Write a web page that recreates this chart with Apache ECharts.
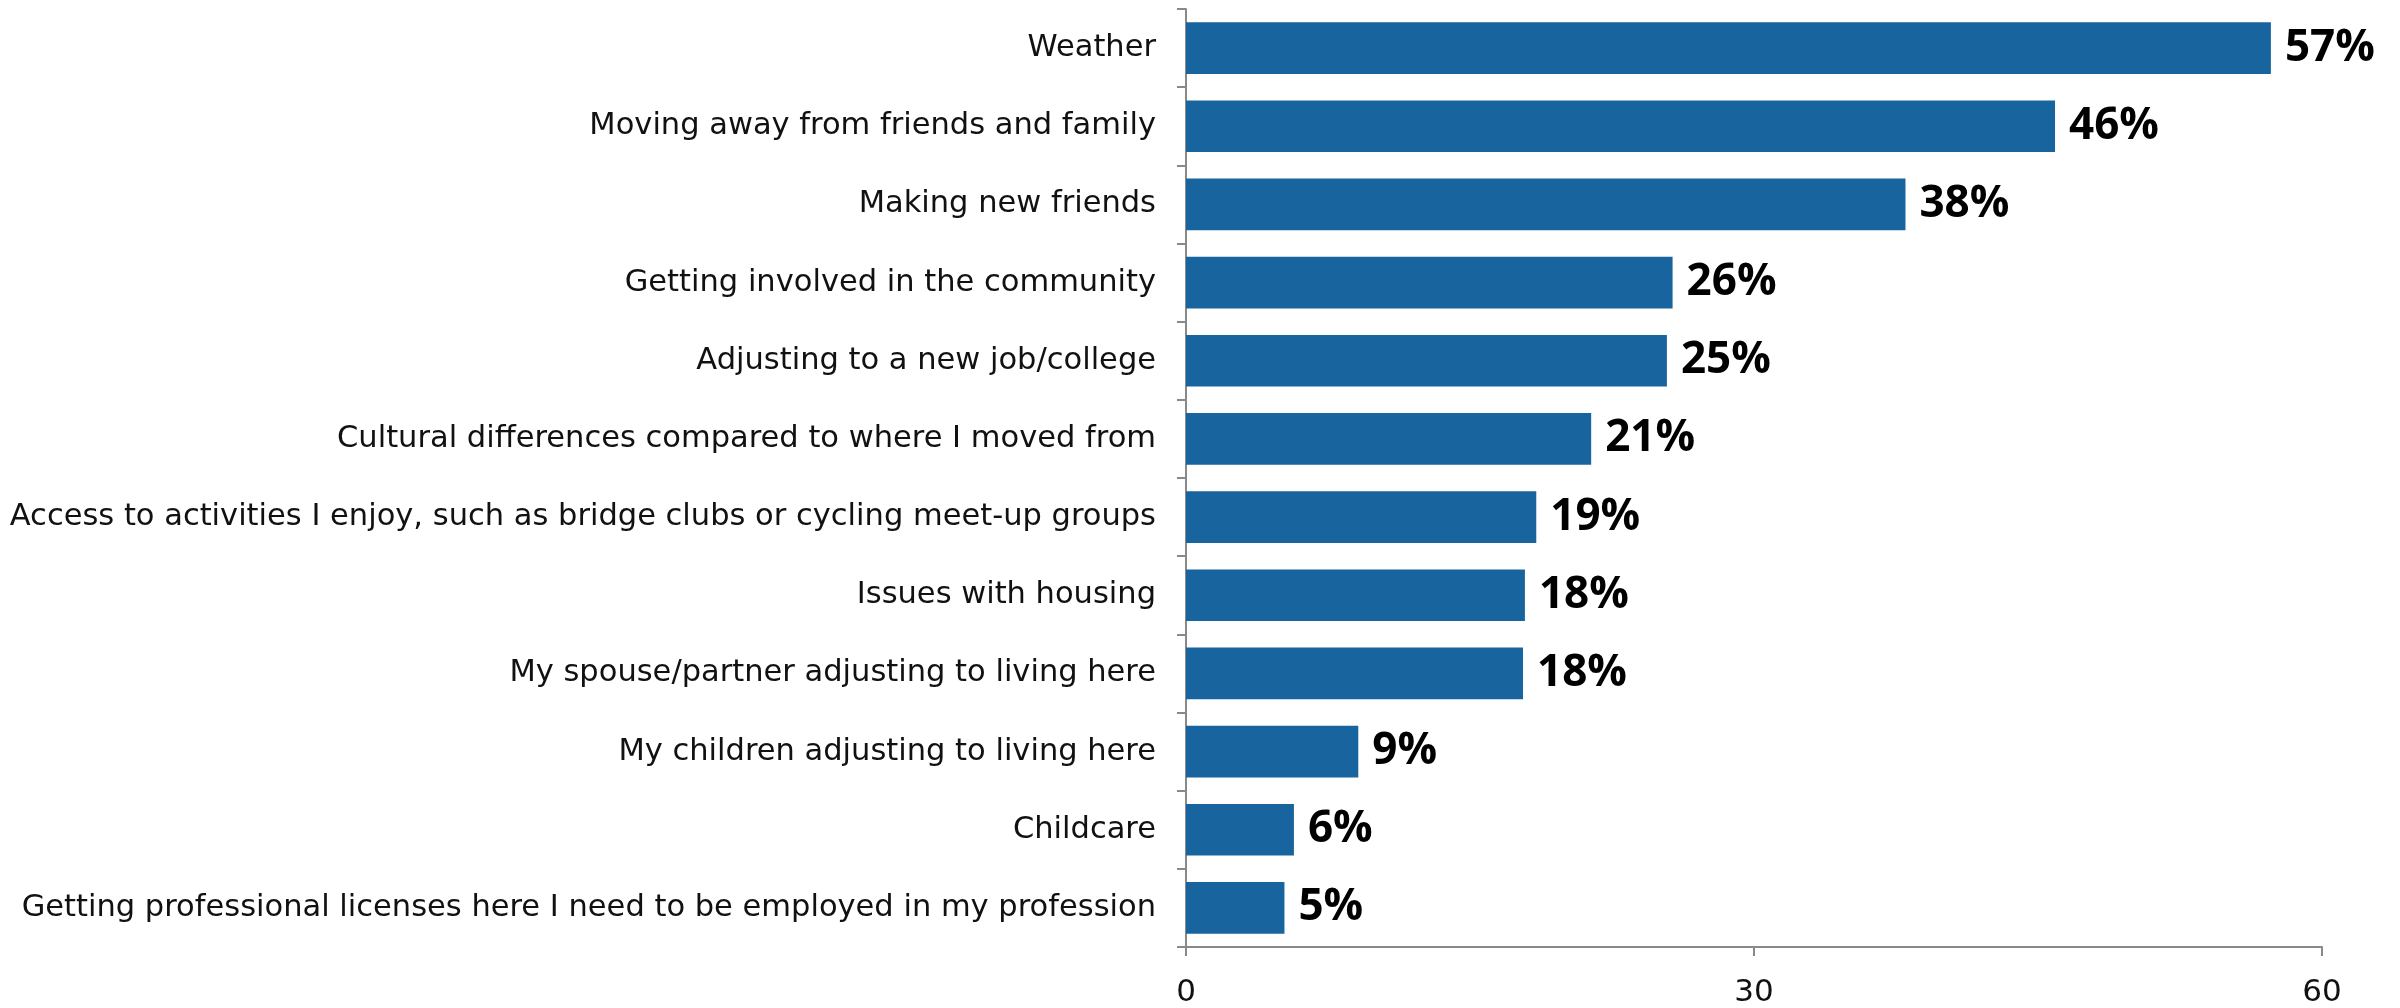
<!DOCTYPE html>
<html>
<head>
<meta charset="utf-8">
<script src="https://cdn.jsdelivr.net/npm/echarts@6/dist/echarts.min.js"></script>
<style>html,body{margin:0;padding:0;background:#fff}#c{width:2400px;height:1008px}</style>
</head>
<body>
<div id="c"></div>
<script>
const categories = [
  "Weather",
  "Moving away from friends and family",
  "Making new friends",
  "Getting involved in the community",
  "Adjusting to a new job/college",
  "Cultural differences compared to where I moved from",
  "Access to activities I enjoy, such as bridge clubs or cycling meet-up groups",
  "Issues with housing",
  "My spouse/partner adjusting to living here",
  "My children adjusting to living here",
  "Childcare",
  "Getting professional licenses here I need to be employed in my profession"
];
const values = [57.3, 45.9, 38.0, 25.7, 25.4, 21.4, 18.5, 17.9, 17.8, 9.1, 5.7, 5.2];
const labels = ["57%", "46%", "38%", "26%", "25%", "21%", "19%", "18%", "18%", "9%", "6%", "5%"];
const xTicks = [0, 30, 60];

const chart = echarts.init(document.getElementById('c'), null, {renderer: 'canvas'});
const axisColor = '#898989';
const font = '"Open Sans", "Noto Sans", sans-serif';
const labelFont = '"DejaVu Sans", sans-serif';
chart.setOption({
  animation: false,
  backgroundColor: '#ffffff',
  grid: {left: 1186, right: 78, top: 9, bottom: 58, containLabel: false},
  xAxis: {
    type: 'value', min: xTicks[0], max: xTicks[xTicks.length - 1], interval: xTicks[1] - xTicks[0],
    axisLine: {show: true, lineStyle: {color: axisColor, width: 2}},
    axisTick: {show: true, length: 9, lineStyle: {color: axisColor, width: 2}},
    splitLine: {show: false},
    axisLabel: {color: '#111', fontSize: 31, fontFamily: labelFont, margin: 30}
  },
  yAxis: {
    type: 'category', data: categories, inverse: true,
    axisLine: {show: true, lineStyle: {color: axisColor, width: 2}},
    axisTick: {show: true, length: 9, alignWithLabel: false, lineStyle: {color: axisColor, width: 2}},
    axisLabel: {color: '#111', fontSize: 30.5, fontFamily: labelFont, margin: 30}
  },
  series: [{
    type: 'bar',
    data: values,
    barCategoryGap: '34%',
    itemStyle: {color: '#17649E'},
    label: {
      show: true, position: 'right', distance: 14,
      formatter: p => labels[p.dataIndex],
      color: '#000', fontSize: 44, fontWeight: 'bold', fontFamily: font
    }
  }]
});
</script>
</body>
</html>
